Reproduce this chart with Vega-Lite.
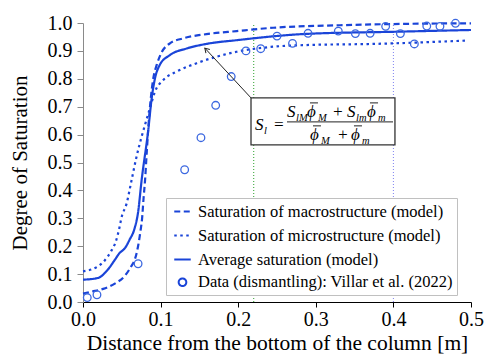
{
  "$schema": "https://vega.github.io/schema/vega-lite/v6.json",
  "width": 388,
  "height": 279,
  "autosize": "none",
  "padding": {"left": 83, "top": 23, "right": 14, "bottom": 56},
  "background": "white",
  "config": {
    "view": {"stroke": null},
    "font": "Liberation Serif",
    "axis": {"labelFont": "Liberation Serif", "titleFont": "Liberation Serif", "labelColor": "black", "titleColor": "black", "titleFontWeight": "normal", "grid": false},
    "legend": {"labelFont": "Liberation Serif"}
  },
  "datasets": {
    "curves": [
      {"x": 0, "y": 0.030, "series": "Saturation of macrostructure (model)"},
      {"x": 0.011, "y": 0.037, "series": "Saturation of macrostructure (model)"},
      {"x": 0.026, "y": 0.047, "series": "Saturation of macrostructure (model)"},
      {"x": 0.041, "y": 0.066, "series": "Saturation of macrostructure (model)"},
      {"x": 0.054, "y": 0.094, "series": "Saturation of macrostructure (model)"},
      {"x": 0.062, "y": 0.127, "series": "Saturation of macrostructure (model)"},
      {"x": 0.0666, "y": 0.151, "series": "Saturation of macrostructure (model)"},
      {"x": 0.0709, "y": 0.199, "series": "Saturation of macrostructure (model)"},
      {"x": 0.0743, "y": 0.259, "series": "Saturation of macrostructure (model)"},
      {"x": 0.076, "y": 0.295, "series": "Saturation of macrostructure (model)"},
      {"x": 0.078, "y": 0.37, "series": "Saturation of macrostructure (model)"},
      {"x": 0.080, "y": 0.438, "series": "Saturation of macrostructure (model)"},
      {"x": 0.082, "y": 0.53, "series": "Saturation of macrostructure (model)"},
      {"x": 0.084, "y": 0.617, "series": "Saturation of macrostructure (model)"},
      {"x": 0.087, "y": 0.72, "series": "Saturation of macrostructure (model)"},
      {"x": 0.0906, "y": 0.802, "series": "Saturation of macrostructure (model)"},
      {"x": 0.095, "y": 0.85, "series": "Saturation of macrostructure (model)"},
      {"x": 0.1014, "y": 0.895, "series": "Saturation of macrostructure (model)"},
      {"x": 0.112, "y": 0.927, "series": "Saturation of macrostructure (model)"},
      {"x": 0.129, "y": 0.945, "series": "Saturation of macrostructure (model)"},
      {"x": 0.159, "y": 0.960, "series": "Saturation of macrostructure (model)"},
      {"x": 0.198, "y": 0.971, "series": "Saturation of macrostructure (model)"},
      {"x": 0.245, "y": 0.983, "series": "Saturation of macrostructure (model)"},
      {"x": 0.331, "y": 0.992, "series": "Saturation of macrostructure (model)"},
      {"x": 0.417, "y": 0.997, "series": "Saturation of macrostructure (model)"},
      {"x": 0.5, "y": 0.999, "series": "Saturation of macrostructure (model)"},
      {"x": 0, "y": 0.110, "series": "Saturation of microstructure (model)"},
      {"x": 0.019, "y": 0.127, "series": "Saturation of microstructure (model)"},
      {"x": 0.028, "y": 0.149, "series": "Saturation of microstructure (model)"},
      {"x": 0.036, "y": 0.181, "series": "Saturation of microstructure (model)"},
      {"x": 0.043, "y": 0.223, "series": "Saturation of microstructure (model)"},
      {"x": 0.0473, "y": 0.271, "series": "Saturation of microstructure (model)"},
      {"x": 0.0494, "y": 0.300, "series": "Saturation of microstructure (model)"},
      {"x": 0.0563, "y": 0.354, "series": "Saturation of microstructure (model)"},
      {"x": 0.0627, "y": 0.438, "series": "Saturation of microstructure (model)"},
      {"x": 0.069, "y": 0.521, "series": "Saturation of microstructure (model)"},
      {"x": 0.0756, "y": 0.593, "series": "Saturation of microstructure (model)"},
      {"x": 0.0799, "y": 0.635, "series": "Saturation of microstructure (model)"},
      {"x": 0.0863, "y": 0.695, "series": "Saturation of microstructure (model)"},
      {"x": 0.0928, "y": 0.754, "series": "Saturation of microstructure (model)"},
      {"x": 0.1035, "y": 0.796, "series": "Saturation of microstructure (model)"},
      {"x": 0.1207, "y": 0.826, "series": "Saturation of microstructure (model)"},
      {"x": 0.1465, "y": 0.856, "series": "Saturation of microstructure (model)"},
      {"x": 0.172, "y": 0.879, "series": "Saturation of microstructure (model)"},
      {"x": 0.198, "y": 0.897, "series": "Saturation of microstructure (model)"},
      {"x": 0.245, "y": 0.915, "series": "Saturation of microstructure (model)"},
      {"x": 0.288, "y": 0.921, "series": "Saturation of microstructure (model)"},
      {"x": 0.374, "y": 0.925, "series": "Saturation of microstructure (model)"},
      {"x": 0.494, "y": 0.937, "series": "Saturation of microstructure (model)"},
      {"x": 0, "y": 0.080, "series": "Average saturation (model)"},
      {"x": 0.019, "y": 0.086, "series": "Average saturation (model)"},
      {"x": 0.032, "y": 0.116, "series": "Average saturation (model)"},
      {"x": 0.041, "y": 0.151, "series": "Average saturation (model)"},
      {"x": 0.047, "y": 0.175, "series": "Average saturation (model)"},
      {"x": 0.054, "y": 0.193, "series": "Average saturation (model)"},
      {"x": 0.060, "y": 0.223, "series": "Average saturation (model)"},
      {"x": 0.0666, "y": 0.265, "series": "Average saturation (model)"},
      {"x": 0.0709, "y": 0.320, "series": "Average saturation (model)"},
      {"x": 0.0756, "y": 0.438, "series": "Average saturation (model)"},
      {"x": 0.084, "y": 0.614, "series": "Average saturation (model)"},
      {"x": 0.0885, "y": 0.73, "series": "Average saturation (model)"},
      {"x": 0.0928, "y": 0.802, "series": "Average saturation (model)"},
      {"x": 0.099, "y": 0.85, "series": "Average saturation (model)"},
      {"x": 0.112, "y": 0.885, "series": "Average saturation (model)"},
      {"x": 0.134, "y": 0.909, "series": "Average saturation (model)"},
      {"x": 0.159, "y": 0.925, "series": "Average saturation (model)"},
      {"x": 0.2, "y": 0.939, "series": "Average saturation (model)"},
      {"x": 0.288, "y": 0.961, "series": "Average saturation (model)"},
      {"x": 0.408, "y": 0.969, "series": "Average saturation (model)"},
      {"x": 0.5, "y": 0.975, "series": "Average saturation (model)"}
    ],
    "pts": [
      {"x": 0.0055, "y": 0.016, "series": "Data (dismantling): Villar et al. (2022)"},
      {"x": 0.018, "y": 0.026, "series": "Data (dismantling): Villar et al. (2022)"},
      {"x": 0.071, "y": 0.137, "series": "Data (dismantling): Villar et al. (2022)"},
      {"x": 0.131, "y": 0.474, "series": "Data (dismantling): Villar et al. (2022)"},
      {"x": 0.152, "y": 0.589, "series": "Data (dismantling): Villar et al. (2022)"},
      {"x": 0.171, "y": 0.705, "series": "Data (dismantling): Villar et al. (2022)"},
      {"x": 0.191, "y": 0.808, "series": "Data (dismantling): Villar et al. (2022)"},
      {"x": 0.210, "y": 0.900, "series": "Data (dismantling): Villar et al. (2022)"},
      {"x": 0.229, "y": 0.908, "series": "Data (dismantling): Villar et al. (2022)"},
      {"x": 0.250, "y": 0.953, "series": "Data (dismantling): Villar et al. (2022)"},
      {"x": 0.270, "y": 0.927, "series": "Data (dismantling): Villar et al. (2022)"},
      {"x": 0.290, "y": 0.963, "series": "Data (dismantling): Villar et al. (2022)"},
      {"x": 0.329, "y": 0.971, "series": "Data (dismantling): Villar et al. (2022)"},
      {"x": 0.351, "y": 0.962, "series": "Data (dismantling): Villar et al. (2022)"},
      {"x": 0.370, "y": 0.963, "series": "Data (dismantling): Villar et al. (2022)"},
      {"x": 0.390, "y": 0.988, "series": "Data (dismantling): Villar et al. (2022)"},
      {"x": 0.409, "y": 0.962, "series": "Data (dismantling): Villar et al. (2022)"},
      {"x": 0.427, "y": 0.925, "series": "Data (dismantling): Villar et al. (2022)"},
      {"x": 0.443, "y": 0.989, "series": "Data (dismantling): Villar et al. (2022)"},
      {"x": 0.460, "y": 0.988, "series": "Data (dismantling): Villar et al. (2022)"},
      {"x": 0.480, "y": 0.999, "series": "Data (dismantling): Villar et al. (2022)"}
    ],
    "fmain": [
      {"x": 0.2216, "y": 0.6169, "t": "S"},
      {"x": 0.2448, "y": 0.6169, "t": "="},
      {"x": 0.2629, "y": 0.6634, "t": "S"},
      {"x": 0.2887, "y": 0.6634, "t": "ϕ"},
      {"x": 0.3209, "y": 0.6634, "t": "+"},
      {"x": 0.3402, "y": 0.6634, "t": "S"},
      {"x": 0.3660, "y": 0.6634, "t": "ϕ"},
      {"x": 0.2925, "y": 0.5811, "t": "ϕ"},
      {"x": 0.3273, "y": 0.5811, "t": "+"},
      {"x": 0.3454, "y": 0.5811, "t": "ϕ"}
    ],
    "fsub": [
      {"x": 0.2332, "y": 0.6026, "t": "l"},
      {"x": 0.2745, "y": 0.6491, "t": "lM"},
      {"x": 0.3029, "y": 0.6491, "t": "M"},
      {"x": 0.3518, "y": 0.6491, "t": "lm"},
      {"x": 0.3801, "y": 0.6491, "t": "m"},
      {"x": 0.3067, "y": 0.5668, "t": "M"},
      {"x": 0.3595, "y": 0.5668, "t": "m"}
    ],
    "fbars": [
      {"x": 0.2925, "x2": 0.3028, "y": 0.7136},
      {"x": 0.3698, "x2": 0.3802, "y": 0.7136},
      {"x": 0.2964, "x2": 0.3067, "y": 0.6313},
      {"x": 0.3492, "x2": 0.3595, "y": 0.6313}
    ]
  },
  "encoding": {
    "x": {"field": "x", "type": "quantitative", "title": "Distance from the bottom of the column [m]",
      "scale": {"domain": [0, 0.5], "nice": false, "zero": false},
      "axis": {"values": [0, 0.1, 0.2, 0.3, 0.4, 0.5], "format": ".1f", "labelFontSize": 20, "titleFontSize": 21.5, "domainColor": "black", "tickColor": "black", "tickSize": 5, "labelPadding": 2, "titlePadding": 3, "labelFlush": false}},
    "y": {"field": "y", "type": "quantitative", "title": "Degree of Saturation",
      "scale": {"domain": [0, 1], "nice": false, "zero": false},
      "axis": {"values": [0, 0.1, 0.2, 0.3, 0.4, 0.5, 0.6, 0.7, 0.8, 0.9, 1.0], "format": ".1f", "labelFontSize": 20, "titleFontSize": 21, "domainColor": "#8a8a8a", "tickColor": "#8a8a8a", "tickSize": 6, "labelPadding": 5, "titlePadding": 17, "labelFlush": false}}
  },
  "layer": [
    {
      "data": {"values": [{"x": 0.22, "y": 0, "y2": 1}]},
      "mark": {"type": "rule", "color": "#2ca02c", "strokeWidth": 1, "strokeDash": [1, 2]},
      "encoding": {"y2": {"field": "y2"}}
    },
    {
      "data": {"values": [{"x": 0.4, "y": 0, "y2": 1}]},
      "mark": {"type": "rule", "color": "#7f82f0", "strokeWidth": 1, "strokeDash": [1, 2]},
      "encoding": {"y2": {"field": "y2"}}
    },
    {
      "data": {"name": "curves"},
      "mark": {"type": "line", "color": "#1a44d8", "strokeWidth": 2.2, "interpolate": "monotone"},
      "encoding": {
        "strokeDash": {"field": "series", "type": "nominal",
          "scale": {"domain": ["Saturation of macrostructure (model)", "Saturation of microstructure (model)", "Average saturation (model)", "Data (dismantling): Villar et al. (2022)"],
            "range": [[6, 3.5], [2.5, 3.5], [1, 0], [1, 0]]},
          "legend": {"title": null, "orient": "none", "legendX": 83, "legendY": 175,
            "labelFont": "Liberation Serif", "labelFontSize": 16.5, "labelColor": "black", "strokeColor": "#c0c0c0", "fillColor": "white",
            "padding": 4, "rowPadding": 6, "labelOffset": 6, "symbolOffset": 3, "symbolStrokeWidth": 2,
            "labelLimit": 400}
        }
      }
    },
    {
      "data": {"name": "pts"},
      "mark": {"type": "point", "filled": false, "color": "#3c68e0", "strokeWidth": 1.3, "opacity": 1},
      "encoding": {
        "shape": {"field": "series", "type": "nominal",
          "scale": {"domain": ["Saturation of macrostructure (model)", "Saturation of microstructure (model)", "Average saturation (model)", "Data (dismantling): Villar et al. (2022)"],
            "range": ["stroke", "stroke", "stroke", "circle"]},
          "legend": {"title": null}},
        "size": {"field": "series", "type": "nominal",
          "scale": {"type": "ordinal", "domain": ["Saturation of macrostructure (model)", "Saturation of microstructure (model)", "Average saturation (model)", "Data (dismantling): Villar et al. (2022)"],
            "range": [272, 272, 272, 58]},
          "legend": {"title": null}}
      }
    },
    {
      "data": {"values": [{"x": 0.2165, "y": 0.7315, "x2": 0.157, "y2": 0.910}]},
      "mark": {"type": "rule", "color": "#222", "strokeWidth": 1},
      "encoding": {"x2": {"field": "x2"}, "y2": {"field": "y2"}}
    },
    {
      "data": {"values": [{"x": 0.157, "y": 0.910}]},
      "mark": {"type": "point", "shape": "M-0.6,1L0,0L0.6,1", "filled": false, "color": "#222", "strokeWidth": 1, "size": 80, "angle": 317, "opacity": 1}
    },
    {
      "data": {"values": [{"x": 0.2165, "y": 0.7315, "x2": 0.402, "y2": 0.563}]},
      "mark": {"type": "rect", "fill": "white", "stroke": "#333", "strokeWidth": 1.3},
      "encoding": {"x2": {"field": "x2"}, "y2": {"field": "y2"}}
    },
    {
      "data": {"values": [{"x": 0.2629, "y": 0.6455, "x2": 0.3995}]},
      "mark": {"type": "rule", "color": "#222", "strokeWidth": 1},
      "encoding": {"x2": {"field": "x2"}}
    },
    {
      "data": {"name": "fbars"},
      "mark": {"type": "rule", "color": "#222", "strokeWidth": 1},
      "encoding": {"x2": {"field": "x2"}}
    },
    {
      "data": {"name": "fmain"},
      "mark": {"type": "text", "font": "Liberation Serif", "fontStyle": "italic", "fontSize": 17, "align": "left", "baseline": "alphabetic", "color": "black"},
      "encoding": {"text": {"field": "t"}}
    },
    {
      "data": {"name": "fsub"},
      "mark": {"type": "text", "font": "Liberation Serif", "fontStyle": "italic", "fontSize": 10.5, "align": "left", "baseline": "alphabetic", "color": "black"},
      "encoding": {"text": {"field": "t"}}
    }
  ]
}
